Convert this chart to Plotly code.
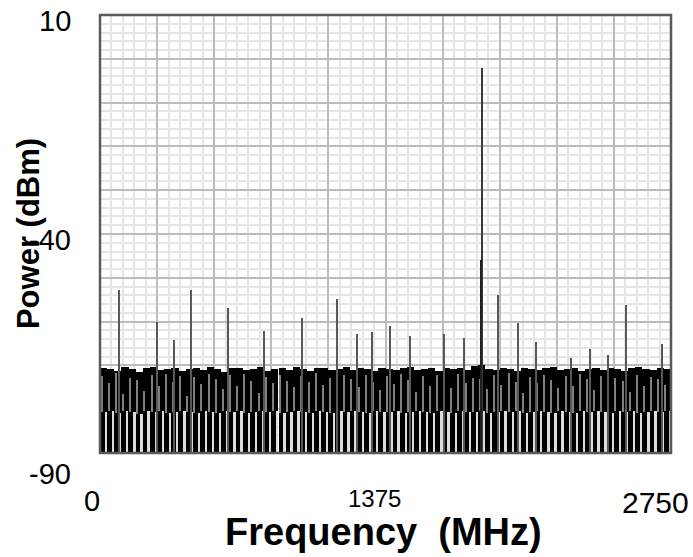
import plotly.graph_objects as go

# ---------------- data ----------------
# noise-floor bins (MHz)
noise_freq = [17, 52, 86, 120, 155, 189, 223, 258, 292, 327,
              361, 395, 430, 464, 498, 533, 567, 602, 636, 670,
              705, 739, 773, 808, 842, 877, 911, 945, 980, 1014,
              1048, 1083, 1117, 1152, 1186, 1220, 1255, 1289, 1323, 1358,
              1392, 1427, 1461, 1495, 1530, 1564, 1598, 1633, 1667, 1702,
              1736, 1770, 1805, 1839, 1873, 1908, 1942, 1977, 2011, 2045,
              2080, 2114, 2148, 2183, 2217, 2252, 2286, 2320, 2355, 2389,
              2423, 2458, 2492, 2527, 2561, 2595, 2630, 2664, 2698, 2733]
# top of the noise band (dBm)
noise_top = [-70.6, -70.9, -71.2, -70.4, -70.8, -71.5, -70.7, -70.3, -71.0, -70.9,
             -70.5, -71.3, -70.8, -70.6, -71.1, -70.4, -70.9, -71.4, -70.7, -70.5,
             -71.0, -70.8, -70.3, -71.2, -70.9, -70.6, -71.0, -70.4, -70.8, -71.3,
             -70.7, -70.5, -71.1, -70.9, -70.4, -71.0, -70.6, -70.8, -71.2, -70.5,
             -70.9, -71.1, -70.7, -70.4, -71.0, -70.8, -70.6, -71.3, -70.5, -70.9,
             -70.7, -71.1, -70.2, -70.0, -70.8, -71.0, -70.6, -70.9, -71.2, -70.5,
             -70.8, -71.0, -70.7, -70.4, -71.1, -70.9, -70.6, -71.3, -70.8, -70.5,
             -71.0, -70.7, -70.9, -71.2, -70.6, -70.4, -70.8, -71.1, -70.7, -70.9]
# top of the lower (light) gaps between noise bins (dBm)
gap_top = [-80.6, -80.4, -80.9, -80.5, -80.7, -81.0, -80.5, -80.6, -80.3, -80.8,
           -80.6, -80.4, -80.7, -80.9, -80.5, -80.6, -80.8, -80.4, -80.7, -80.5,
           -80.9, -80.6, -80.4, -80.7, -80.5, -80.8, -80.6, -80.3, -80.7, -80.9,
           -80.5, -80.6, -80.8, -80.4, -80.7, -80.5, -80.6, -80.9, -80.4, -80.7,
           -80.6, -80.5, -80.8, -80.6, -80.4, -80.7, -80.9, -80.5, -80.6, -80.8,
           -80.4, -80.7, -80.6, -80.5, -80.9, -80.6, -80.4, -80.7, -80.5, -80.8,
           -80.6, -80.3, -80.7, -80.9, -80.5, -80.6, -80.8, -80.4, -80.7, -80.5,
           -80.6, -80.9, -80.4, -80.7, -80.5, -80.8, -80.6, -80.4, -80.7, -80.5]
# top of the grey stripes in the upper part of the noise band (dBm)
stripe_top = [-72.5, -74.0, -71.8, -76.5, -72.9, -73.4, -75.8, -72.2, -74.6, -71.9,
              -73.8, -72.4, -77.0, -72.7, -74.2, -71.9, -73.1, -75.4, -72.3, -74.8,
              -72.0, -73.6, -76.2, -72.6, -74.1, -72.1, -73.5, -75.0, -72.4, -73.9,
              -71.8, -74.4, -72.8, -76.8, -72.3, -73.2, -74.9, -72.1, -73.7, -75.6,
              -72.5, -74.3, -71.9, -73.3, -76.0, -72.4, -74.7, -72.2, -73.6, -75.2,
              -72.0, -74.1, -72.9, -73.0, -75.5, -72.3, -74.5, -71.8, -73.9, -76.3,
              -72.6, -74.0, -72.2, -73.4, -75.1, -72.5, -74.6, -71.9, -73.2, -75.7,
              -72.4, -74.2, -72.8, -73.5, -76.1, -72.1, -74.8, -72.6, -73.1, -74.4]

# spurious tones (MHz, dBm)
spur_freq = [92, 275, 356, 438, 616, 790, 973, 1141, 1238, 1310, 1397, 1493,
             1657, 1753, 1917, 2013, 2100, 2268, 2360, 2447, 2533, 2707]
spur_level = [-52.8, -60.1, -64.2, -52.8, -56.9, -62.1, -59.2, -54.8, -62.8, -62.4, -61.0, -63.3,
              -62.8, -63.7, -53.9, -60.3, -64.7, -68.3, -66.3, -67.6, -56.2, -65.1]
# fundamental output tone and the tone just beside it
tone_freq = [1840]
tone_level = [-2.1]
near_freq = [1835]
near_level = [-45.9]

floor_db = -90
x_range = [0, 2750]
y_range = [-90, 10]
y_tick_text = ["10", "-40", "-90"]
x_tick_text = ["0", "1375", "2750"]
x_title = "Frequency  (MHz)"
y_title = "Power (dBm)"

# ---------------- figure ----------------
fig = go.Figure()

fig.add_trace(go.Bar(x=noise_freq, y=[t - floor_db for t in noise_top], base=floor_db,
                     width=34.6, marker=dict(color="#000000", line=dict(width=0)),
                     hoverinfo="skip"))
fig.add_trace(go.Bar(x=noise_freq, y=[s - g for s, g in zip(stripe_top, gap_top)], base=gap_top,
                     width=7, offset=-12, marker=dict(color="#808080", line=dict(width=0)),
                     hoverinfo="skip"))
fig.add_trace(go.Bar(x=noise_freq, y=[g - floor_db for g in gap_top], base=floor_db,
                     width=9, offset=8, marker=dict(color="#dcdcdc", line=dict(width=0)),
                     hoverinfo="skip"))
fig.add_trace(go.Bar(x=spur_freq, y=[s - floor_db for s in spur_level], base=floor_db,
                     width=8, marker=dict(color="#585858", line=dict(width=0)),
                     hoverinfo="skip"))
fig.add_trace(go.Bar(x=tone_freq, y=[s - floor_db for s in tone_level], base=floor_db,
                     width=9, marker=dict(color="#3a3a3a", line=dict(width=0)),
                     hoverinfo="skip"))
fig.add_trace(go.Bar(x=near_freq, y=[s - floor_db for s in near_level], base=floor_db,
                     width=13, marker=dict(color="#202020", line=dict(width=0)),
                     hoverinfo="skip"))

fig.update_layout(
    width=693, height=557,
    margin=dict(l=100, r=22, t=15, b=104),
    paper_bgcolor="white", plot_bgcolor="white",
    barmode="overlay", bargap=0, showlegend=False,
    font=dict(family="Liberation Sans, Arial, sans-serif", color="black"),
)
fig.update_xaxes(range=x_range, tick0=0, dtick=275, showticklabels=False, ticks="",
                 showgrid=True, gridcolor="#bcbcbc", gridwidth=1.5, zeroline=False,
                 minor=dict(dtick=55, showgrid=True, gridcolor="#e6e6e6", gridwidth=1.5, ticks=""))
fig.update_yaxes(range=y_range, tick0=-90, dtick=10, showticklabels=False, ticks="",
                 showgrid=True, gridcolor="#bcbcbc", gridwidth=1.5, zeroline=False,
                 minor=dict(dtick=2, showgrid=True, gridcolor="#e6e6e6", gridwidth=1.5, ticks=""))

fig.add_shape(type="rect", xref="paper", yref="paper", x0=0, x1=1, y0=0, y1=1,
              line=dict(color="#5a5a5a", width=2.5), layer="above")

ann = []
# y tick labels
for txt, yp in zip(y_tick_text, [0.986, 0.486, -0.048]):
    ann.append(dict(text=txt, xref="paper", yref="paper", x=-0.047, y=yp,
                    xanchor="right", yanchor="middle", showarrow=False, height=28,
                    font=dict(size=29, color="black")))
# x tick labels
for txt, xp, yp, sz in zip(x_tick_text, [-0.014, 0.48, 0.972], [-0.11, -0.105, -0.114], [29, 24, 30]):
    ann.append(dict(text=txt, xref="paper", yref="paper", x=xp, y=yp,
                    xanchor="center", yanchor="middle", showarrow=False,
                    font=dict(size=sz, color="black")))
ann.append(dict(text="<b>" + x_title + "</b>", xref="paper", yref="paper", x=0.497, y=-0.18,
                xanchor="center", yanchor="middle", showarrow=False,
                font=dict(size=38, color="black")))
ann.append(dict(text="<b>" + y_title + "</b>", xref="paper", yref="paper", x=-0.126, y=0.5,
                xanchor="center", yanchor="middle", showarrow=False, textangle=-90,
                font=dict(size=31, color="black")))
fig.update_layout(annotations=ann)

# remove the browser's default 8px body margin so the figure fills the window
fig.write_html("out.html", config={"displayModeBar": False},
               post_script="document.body.style.margin='0px';")
